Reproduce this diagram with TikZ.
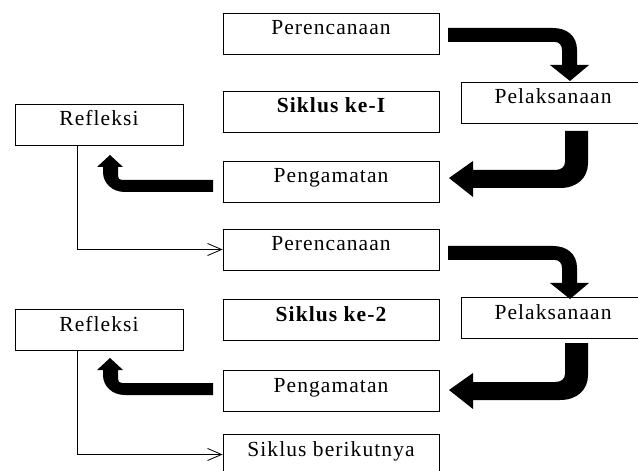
\documentclass[tikz,border=0pt]{standalone}
\usepackage{fontspec}
\setmainfont{Liberation Serif}[LetterSpace=5]
\usetikzlibrary{arrows.meta}
\tikzset{
  box/.style={draw=black, line width=0.8bp, rectangle, inner sep=0pt,
    minimum width=216bp, minimum height=41bp,
    text height=14bp, text depth=11bp,
    font=\fontsize{21.5bp}{25bp}\selectfont},
  narrowbox/.style={box, minimum width=184bp},
  refbox/.style={box, minimum width=168bp},
  conn/.style={draw=black, line width=0.8bp, -{Straight Barb[length=14bp,width=12bp,line width=0.8bp]}},
  bent/.style={fill=black},
  arrowRD/.pic={
    \fill[bent] (448,28) -- (553,28) .. controls (567,28) and (577,36) .. (577,50)
      -- (577,65) -- (589,65) -- (570,81) -- (550,65) -- (562,65) -- (562,50)
      .. controls (562,45) and (559,42) .. (555,42) -- (448,42) -- cycle;
  },
  arrowDL/.pic={
    \fill[bent] (565,131) -- (588,131) -- (588,163) .. controls (588,178) and (577,188) .. (560,188)
      -- (473,188) -- (473,197) -- (449,178) -- (473,161) -- (473,170) -- (555,170)
      .. controls (561,170) and (565,167) .. (565,162) -- cycle;
  },
  arrowLU/.pic={
    \fill[bent] (213,180) -- (213,192) -- (125,192) .. controls (112,192) and (103,183) .. (103,172)
      -- (103,167) -- (97,167) -- (110,155) -- (123,167) -- (118,167) -- (118,176)
      .. controls (118,178.5) and (119.5,180) .. (122,180) -- cycle;
  }
}
\begin{document}
\begin{tikzpicture}[x=1bp,y=-1bp]
\fill[white] (0,0) rectangle (638,471);
\useasboundingbox (0,0) rectangle (638,471);

% cycle 1
\node[box] (P1) at (331,33.5) {Perencanaan};
\node[box] (S1) at (331,111.5) {\bfseries Siklus ke-I};
\node[narrowbox] (L1) at (553,102.5) {Pelaksanaan};
\node[box] (G1) at (331,181.5) {Pengamatan};
\node[refbox] (R1) at (99,124.5) {Refleksi};

% cycle 2
\node[box] (P2) at (331,249.5) {Perencanaan};
\node[box] (S2) at (331,319.5) {\bfseries Siklus ke-2};
\node[narrowbox] (L2) at (553,318) {Pelaksanaan};
\node[box] (G2) at (331,390.5) {Pengamatan};
\node[refbox] (R2) at (99,329.5) {Refleksi};

\node[box] (B) at (331,454.5) {Siklus berikutnya};

% bent block arrows
\pic at (0,0) {arrowRD};
\pic at (0,218) {arrowRD};
\pic at (0,0) {arrowDL};
\pic at (0,212) {arrowDL};
\pic at (0,0) {arrowLU};
\pic at (0,203) {arrowLU};

% thin connectors
\draw[conn] ([xshift=63bp]R1.south west) |- (P2.west);
\draw[conn] ([xshift=63bp]R2.south west) |- (B.west);
\end{tikzpicture}
\end{document}
